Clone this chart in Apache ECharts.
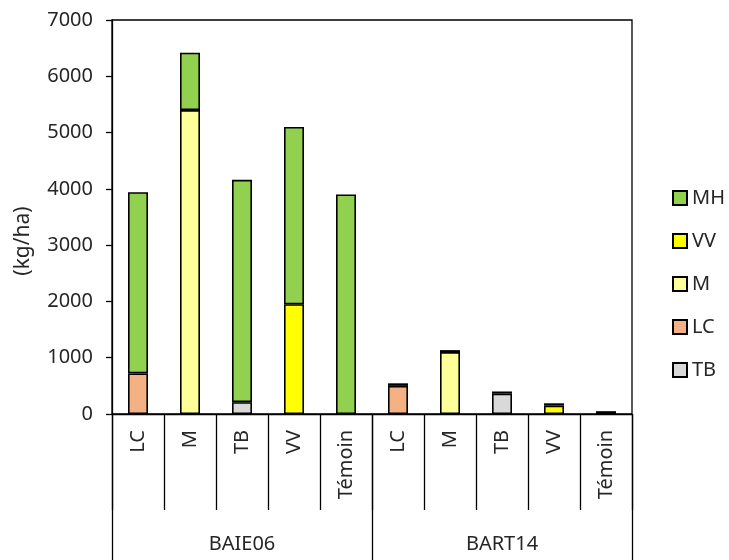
<!DOCTYPE html>
<html><head><meta charset="utf-8">
<script src="https://cdn.jsdelivr.net/npm/echarts@6/dist/echarts.min.js"></script>
<style>html,body{margin:0;padding:0;background:#fff}#c{width:729px;height:560px}</style>
</head><body><div id="c"></div>
<script>
const categories = ['LC','M','TB','VV','Témoin','LC','M','TB','VV','Témoin'];
const groups = ['BAIE06','BART14'];
const yTicks = [0,1000,2000,3000,4000,5000,6000,7000];
const TB = [null,null,210,null,null, null,null,360,null,null];
const LC = [720,null,null,null,null, 500,null,null,null,null];
const M  = [null,5400,null,null,null, null,1100,null,null,null];
const VV = [null,null,null,1950,null, null,null,null,150,null];
const MH = [3220,1020,3950,3150,3900, 45,35,40,40,50];
const yName = '(kg/ha)';

const font = 'Noto Sans';
const txt = '#262626';
const mk = (name, data, color) => ({
  name, type:'bar', stack:'s', data, barWidth:20,
  itemStyle:{color, borderColor:'#000', borderWidth:1.6},
  emphasis:{disabled:true}
});
const chart = echarts.init(document.getElementById('c'), null, {renderer:'canvas'});
chart.setOption({
  animation:false,
  textStyle:{fontFamily:font},
  grid:{left:112, right:97, top:20, bottom:146, show:true, borderColor:'#000', borderWidth:1.3, backgroundColor:'transparent'},
  legend:{
    orient:'vertical', left:667, top:183, itemWidth:14, itemHeight:14, itemGap:23,
    data:['MH','VV','M','LC','TB'],
    textStyle:{fontFamily:font, fontSize:20, color:txt, padding:[0,0,0,0]},
    icon:'rect'
  },
  xAxis:[{
    type:'category', data:categories, position:'bottom',
    axisLine:{lineStyle:{color:'#000', width:1.3}},
    axisTick:{show:true, interval:0, length:96, lineStyle:{color:'#000', width:1.3}},
    axisLabel:{rotate:90, interval:0, margin:16, fontSize:20, color:txt, fontFamily:font}
  },{
    type:'category', data:groups, position:'bottom', gridIndex:0,
    axisLine:{show:false},
    axisTick:{show:true, length:146, lineStyle:{color:'#000', width:1.3}},
    axisLabel:{margin:120, fontSize:20, color:txt, fontFamily:font}
  }],
  yAxis:{
    type:'value', min:yTicks[0], max:yTicks[yTicks.length-1], interval:1000,
    name:yName, nameLocation:'middle', nameGap:78, nameRotate:90,
    nameTextStyle:{fontSize:21, color:txt, fontFamily:font, padding:[0,48,0,0]},
    axisLine:{show:true, lineStyle:{color:'#000', width:1.3}},
    axisTick:{show:true, inside:false, length:6, lineStyle:{color:'#000', width:1.3}},
    axisLabel:{fontSize:20, color:txt, margin:19, fontFamily:font, formatter:v => String(v)},
    splitLine:{show:false}
  },
  series:[mk('TB',TB,'#D9D9D9'), mk('LC',LC,'#F4B183'), mk('M',M,'#FFFF99'), mk('VV',VV,'#FFFF00'), mk('MH',MH,'#92D050')]
});
</script></body></html>
